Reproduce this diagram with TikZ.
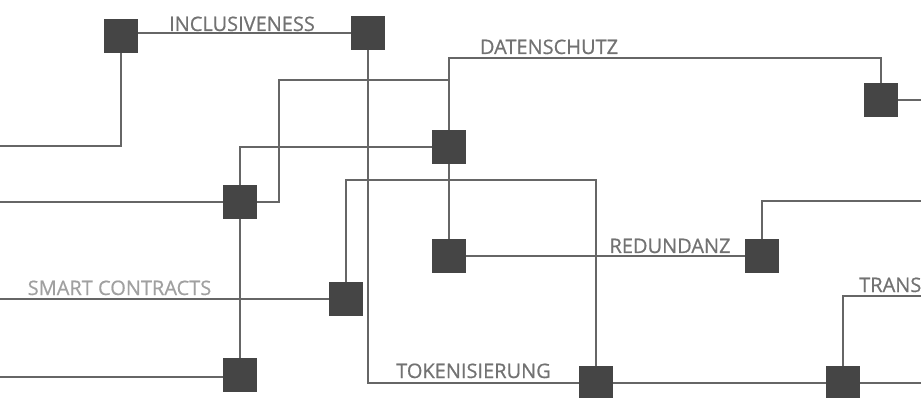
\documentclass[tikz,border=0pt]{standalone}
\usepackage{fontspec}
\setmainfont{Open Sans}
\newfontfamily\lblfont[FakeBold=0.6]{Open Sans}
\begin{document}
\begin{tikzpicture}[x=1pt,y=-1pt,
  sq/.style={draw=none,fill=sqfill,minimum width=34pt,minimum height=34pt,inner sep=0pt,outer sep=0pt},
  wire/.style={draw=wirecol,line width=2pt},
  lbl/.style={font=\lblfont\fontsize{20}{22}\selectfont,text=lblcol,inner sep=0pt,anchor=base},
  lbllight/.style={lbl,text=lbllight}]
\definecolor{sqfill}{HTML}{454545}
\definecolor{wirecol}{HTML}{666666}
\definecolor{lblcol}{HTML}{727272}
\definecolor{lbllight}{HTML}{A0A0A0}
\useasboundingbox (0,0) rectangle (921,398);
\clip (0,0) rectangle (921,398);
% squares (positions)
\coordinate (pA) at (121,36);
\coordinate (pB) at (368,33);
\coordinate (pC) at (881,100);
\coordinate (pD) at (449,147);
\coordinate (pE) at (240,202);
\coordinate (pF) at (449,256);
\coordinate (pG) at (762,256);
\coordinate (pH) at (346,299);
\coordinate (pI) at (240,375);
\coordinate (pJ) at (596,383);
\coordinate (pK) at (843,383);
% free ends / bends
\coordinate (lA) at (0,146);
\coordinate (dt) at (449,58);
\coordinate (e1) at (279,80);
\coordinate (lE) at (0,202);
\coordinate (rC) at (921,100);
\coordinate (h2) at (596,180);
\coordinate (rG) at (921,201);
\coordinate (lH) at (0,299);
\coordinate (lI) at (0,377);
\coordinate (rK) at (921,383);
\coordinate (tK) at (921,296);
% wires
\draw[wire] (pB) -- (pB -| pA);
\draw[wire] (pA) |- (lA);
\draw[wire] (pB) |- (pJ);
\draw[wire] (pF) -- (dt) -| (pC);
\draw[wire] (pE) -| (e1) -- (e1 -| pD);
\draw[wire] (pE) -- (lE);
\draw[wire] (pC) -- (rC);
\draw[wire] (pD) -| (pI);
\draw[wire] (pH) |- (h2) -- (pJ);
\draw[wire] (pF) -- (pG);
\draw[wire] (pG) |- (rG);
\draw[wire] (pH) -- (lH);
\draw[wire] (lI) -- (lI -| pI);
\draw[wire] (pJ) -- (pK) -- (rK);
\draw[wire] (pK) |- (tK);
% square nodes
\node[sq] (A) at (pA) {};
\node[sq] (B) at (pB) {};
\node[sq] (C) at (pC) {};
\node[sq] (D) at (pD) {};
\node[sq] (E) at (pE) {};
\node[sq] (F) at (pF) {};
\node[sq] (G) at (pG) {};
\node[sq] (H) at (pH) {};
\node[sq] (I) at (pI) {};
\node[sq] (J) at (pJ) {};
\node[sq] (K) at (pK) {};
% labels
\node[lbl] (t1) at (242,31) {INCLUSIVENESS};
\node[lbl] (t2) at (549,54) {DATENSCHUTZ};
\node[lbl] (t3) at (670,253) {REDUNDANZ};
\node[lbllight] (t4) at (119.5,295) {SMART CONTRACTS};
\node[lbl] (t5) at (473.5,378) {TOKENISIERUNG};
\node[lbl,anchor=base west] (t6) at (859,292) {TRANS};
\end{tikzpicture}
\end{document}
